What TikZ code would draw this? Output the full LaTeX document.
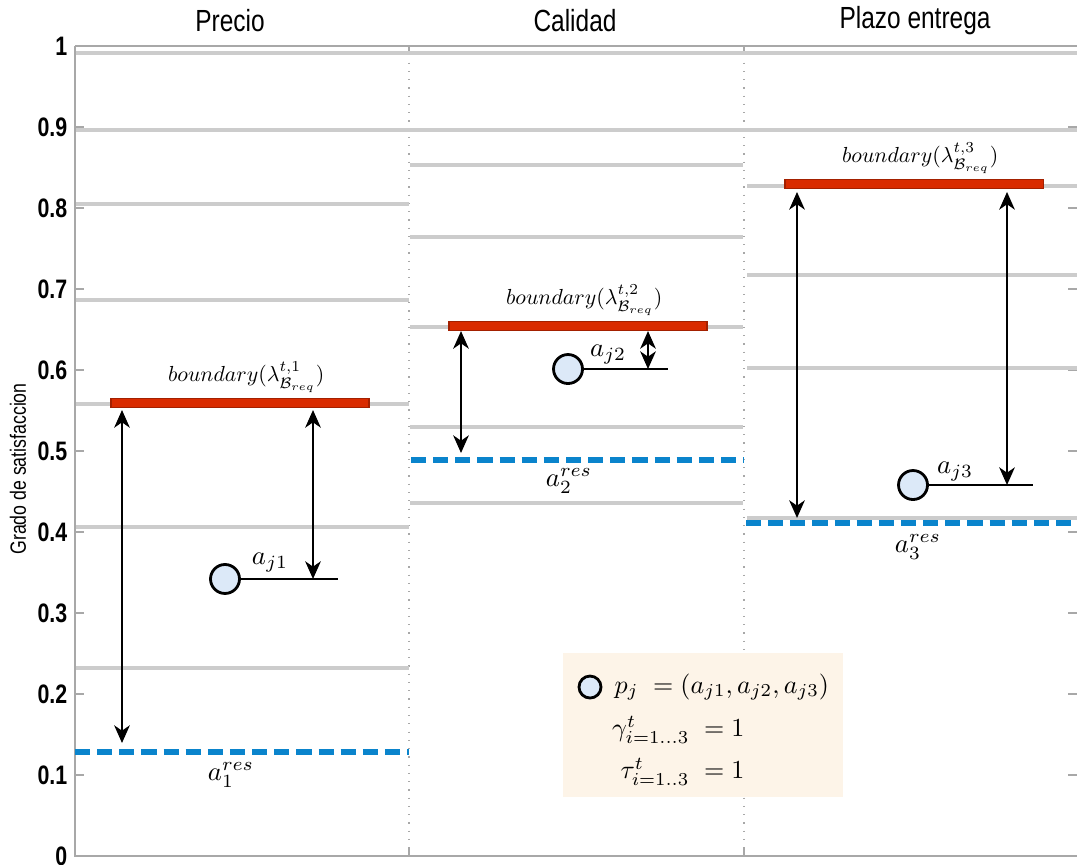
\documentclass[tikz,border=0pt]{standalone}
\usepackage{fontspec}
\usepackage{amsmath}
\usepackage{amssymb}
\usetikzlibrary{arrows.meta, positioning, calc}
\newfontfamily\plotfont[FakeStretch=0.8]{Liberation Sans}
\definecolor{gridgray}{HTML}{CCCCCC}
\definecolor{axisgray}{HTML}{A8A8A8}
\definecolor{bndred}{HTML}{D92B00}
\definecolor{resblue}{HTML}{0A84CC}
\definecolor{ptfill}{HTML}{DCE9F8}
\definecolor{legbg}{HTML}{FDF4E8}

\begin{document}
\begin{tikzpicture}[x=0.1mm, y=8.1cm,
    gridline/.style={line width=1.4pt, gridgray},
    resline/.style={line width=1.5pt, resblue, dash pattern=on 4.3pt off 2pt},
    bndbar/.style={draw=bndred!75!black, line width=0.3pt, fill=bndred,
        minimum width=2.58cm, minimum height=0.09cm, inner sep=0pt},
    dist/.style={{Stealth[length=5pt, width=4.4pt, inset=1.5pt]}-{Stealth[length=5pt, width=4.4pt, inset=1.5pt]}, line width=0.8pt},
    itempt/.style={circle, draw, line width=0.8pt, fill=ptfill, minimum size=0.29cm, inner sep=0pt},
    axisline/.style={draw=axisgray, line width=0.35pt},
    lbl/.style={font=\fontsize{10}{12}\selectfont, inner sep=0pt, scale=0.76},
    leglbl/.style={font=\fontsize{10}{12}\selectfont, inner sep=0pt, scale=0.74},
    bndlbl/.style={font=\fontsize{10}{12}\selectfont, inner sep=0pt, scale=0.62},
    ticklbl/.style={font=\plotfont\bfseries\fontsize{7.6}{8}\selectfont, inner sep=0pt},
    title/.style={font=\plotfont\fontsize{8.7}{10}\selectfont, inner sep=0pt},
]
    \useasboundingbox (0,1.0568) rectangle (1077,-0.0099);

    % frame of the three criteria
    \draw[axisline] (75,1) -- (75,0) -- (1077,0);
    \draw[axisline] (75,1) -- (1077,1);
    \draw[axisline, dotted] (409,1) -- (409,0);
    \draw[axisline, dotted] (744,1) -- (744,0);
    \foreach \x in {409,744} {
        \draw[axisline] (\x,1) -- (\x,0.99);
        \draw[axisline] (\x,0) -- (\x,0.01);
    }
    \foreach \v in {0,0.1,0.2,0.3,0.4,0.5,0.6,0.7,0.8,0.9,1} {
        \draw[axisline] (75,\v) -- (84,\v);
        \draw[axisline] (1068,\v) -- (1077,\v);
        \node[ticklbl, anchor=east] at (68,\v) {\v};
    }
    \node[font=\plotfont\fontsize{6.3}{8}\selectfont, rotate=90, inner sep=0pt] (ylab) at (18,0.4778) {Grado de satisfaccion};

    % titles
    \node[title] (tprecio) at (230,1.0309) {Precio};
    \node[title] (tcalidad) at (575,1.0309) {Calidad};
    \node[title] (tplazo) at (915,1.0309) {Plazo entrega};

    % grey levels
    \foreach \v in {0.9914,0.8963} \draw[gridline] (76,\v) -- (1077,\v);
    \foreach \v in {0.8049,0.6864,0.5580,0.4062,0.2321} \draw[gridline] (76,\v) -- (409,\v);
    \foreach \v in {0.8531,0.7642,0.6531,0.5296,0.4358} \draw[gridline] (410,\v) -- (743,\v);
    \foreach \v in {0.8272,0.7173,0.6025,0.4173} \draw[gridline] (747,\v) -- (1077,\v);

    % reservation values
    \draw[resline] (75,0.1284) -- (409,0.1284);
    \draw[resline] (411,0.4889) -- (744,0.4889);
    \draw[resline] (746,0.4111) -- (1077,0.4111);
    \node[lbl] (res1) at (231,0.1000) {$a_1^{res}$};
    \node[lbl] (res2) at (569,0.4630) {$a_2^{res}$};
    \node[lbl] (res3) at (918,0.3815) {$a_3^{res}$};

    % boundaries
    \node[bndbar] (bnd1) at (240,0.5593) {};
    \node[bndbar] (bnd2) at (578,0.6543) {};
    \node[bndbar] (bnd3) at (914,0.8296) {};
    \node[bndlbl, above=0.05cm of bnd1, xshift=0.1cm] (bl1) {$boundary(\lambda^{t,1}_{\mathcal{B}_{req}})$};
    \node[bndlbl, above=0.05cm of bnd2, xshift=0.1cm] (bl2) {$boundary(\lambda^{t,2}_{\mathcal{B}_{req}})$};
    \node[bndlbl, above=0.05cm of bnd3, xshift=0.1cm] (bl3) {$boundary(\lambda^{t,3}_{\mathcal{B}_{req}})$};

    % alternative p_j
    \node[itempt] (pt1) at (225,0.3420) {};
    \node[itempt] (pt2) at (568,0.6012) {};
    \node[itempt] (pt3) at (913,0.4580) {};
    \coordinate (end1) at (338,0.3420);
    \coordinate (end2) at (668,0.6012);
    \coordinate (end3) at (1033,0.4580);
    \draw[line width=0.7pt] (pt1) -- (end1);
    \draw[line width=0.7pt] (pt2) -- (end2);
    \draw[line width=0.7pt] (pt3) -- (end3);
    \node[lbl] (aj1) at (270,0.3617) {$a_{j1}$};
    \node[lbl] (aj2) at (608,0.6185) {$a_{j2}$};
    \node[lbl] (aj3) at (955,0.4741) {$a_{j3}$};

    % distances
    \coordinate (b1l) at (122,0.5506);
    \coordinate (r1l) at (122,0.1395);
    \coordinate (b1r) at (313,0.5506);
    \coordinate (p1r) at (313,0.3420);
    \coordinate (b2l) at (461,0.6481);
    \coordinate (r2l) at (461,0.4975);
    \coordinate (b2r) at (648,0.6481);
    \coordinate (p2r) at (648,0.6012);
    \coordinate (b3l) at (797,0.8198);
    \coordinate (r3l) at (797,0.4173);
    \coordinate (b3r) at (1007,0.8198);
    \coordinate (p3r) at (1007,0.4580);
    \draw[dist] (b1l) -- (r1l);
    \draw[dist] (b1r) -- (p1r);
    \draw[dist] (b2l) -- (r2l);
    \draw[dist] (b2r) -- (p2r);
    \draw[dist] (b3l) -- (r3l);
    \draw[dist] (b3r) -- (p3r);

    % legend
    \node[fill=legbg, minimum width=2.8cm, minimum height=1.44cm, inner sep=0pt] (legend) at (703,0.1617) {};
    \node[itempt, minimum size=0.22cm] (legpt) at (590,0.2086) {};
    \node[leglbl, anchor=west] (legp) at (614,0.2086) {$p_j\;=(a_{j1},a_{j2},a_{j3})$};
    \node[leglbl, anchor=east] (leggam) at (745,0.1556) {$\gamma^t_{i=1...3}\;=1$};
    \node[leglbl, anchor=east] (legtau) at (745,0.1037) {$\tau^t_{i=1..3}\;=1$};
\end{tikzpicture}
\end{document}
